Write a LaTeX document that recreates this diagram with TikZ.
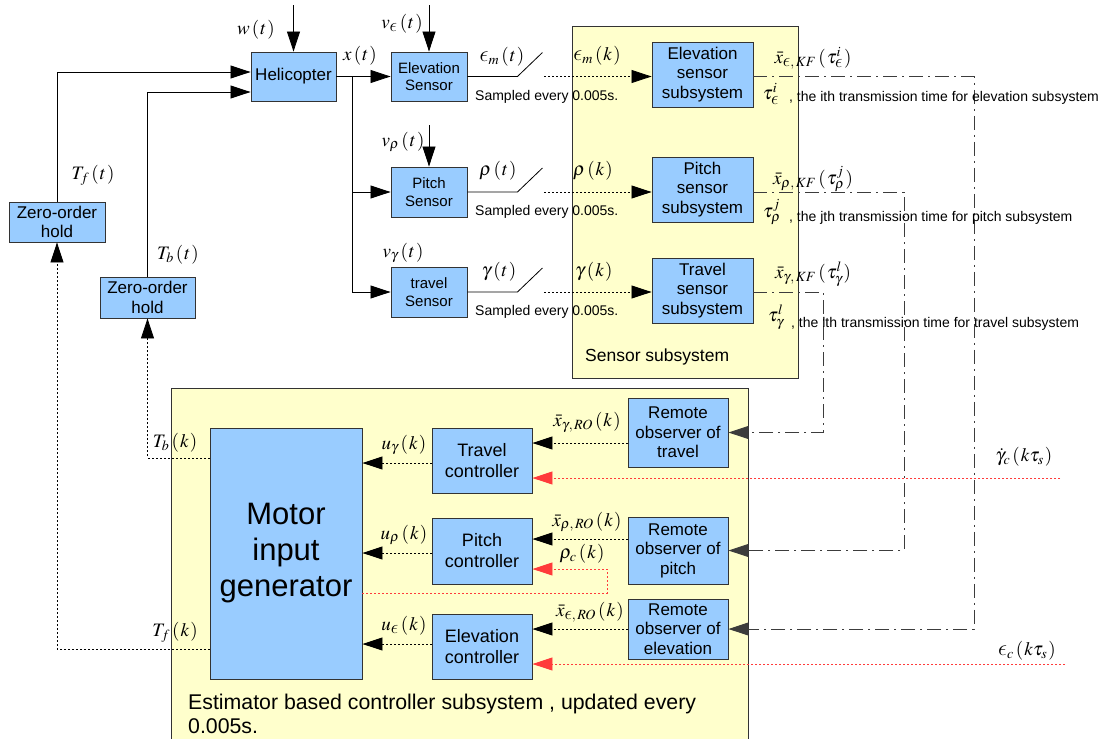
\documentclass[tikz,border=0pt]{standalone}
\usepackage{graphicx}
\usepackage{mathptmx}
\usepackage[no-math]{fontspec}
\setmainfont{Liberation Sans}
\usetikzlibrary{arrows.meta}
\definecolor{blockblue}{HTML}{99CCFF}
\definecolor{panelyellow}{HTML}{FFFFCC}
\definecolor{edge}{HTML}{333333}
\definecolor{cmdred}{HTML}{FF3B3B}
\definecolor{linkgray}{HTML}{3C3C3C}
% lunate epsilon taken from the Computer Modern math italic, a little enlarged
\DeclareSymbolFont{cmlet}{OML}{cmm}{m}{it}
\DeclareMathSymbol{\lepsraw}{\mathord}{cmlet}{"0F}
\newcommand\bigeps[2]{\mathord{\scalebox{1.3}{$#1\lepsraw$}}}
\newcommand\leps{{\mathpalette\bigeps\relax}}
% argument in parentheses with a little air around it
\newcommand\pa[1]{\mkern2mu(\mkern1mu#1\mkern1mu)}

\begin{document}
\begin{tikzpicture}[x=1pt,y=-1pt,
  blk/.style={draw=edge, line width=0.9pt, fill=blockblue, inner sep=0pt,
    align=center, font=\fontsize{17}{19.5}\selectfont},
  sblk/.style={blk, font=\fontsize{15}{17.5}\selectfont},
  cblk/.style={blk, font=\fontsize{18}{21}\selectfont},
  panel/.style={draw=edge, line width=0.9pt, fill=panelyellow, inner sep=0pt},
  lab/.style={inner sep=0pt, font=\fontsize{19}{22}\selectfont},
  note/.style={inner sep=0pt, anchor=west, font=\fontsize{14}{16}\selectfont},
  tip/.style={-{Triangle[length=20pt,width=13pt]}},
  wire/.style={line width=0.8pt, black},
  dotw/.style={line width=0.8pt, black, dash pattern=on 2pt off 2pt},
  redw/.style={line width=0.8pt, cmdred, dash pattern=on 2pt off 2pt},
  link/.style={line width=0.9pt, linkgray, dash pattern=on 14pt off 5pt on 2pt off 5pt},
]
\useasboundingbox (0,0) rectangle (1117,739);
\fill[white] (0,0) rectangle (1117,739);
\clip (0,0) rectangle (1117,739);

% ---------- subsystem panels ----------
\node[panel, minimum width=226, minimum height=352] (sensp) at (685,202) {};
\node[panel, minimum width=577, minimum height=380] (ctrlp) at (459.5,578) {};
\node[note, font=\fontsize{17.5}{20}\selectfont] (sensl) at (585,357) {Sensor subsystem};
\node[inner sep=0pt, anchor=north west, align=left, font=\fontsize{21.3}{24}\selectfont] (ctrll)
  at (188,694) {Estimator based controller subsystem , updated every\\0.005s.};

% ---------- plant side ----------
\node[blk, minimum width=85, minimum height=49] (heli) at (293.5,76.5) {Helicopter};
\node[blk, minimum width=96, minimum height=40] (zoha) at (57,222) {Zero-order\\hold};
\node[blk, minimum width=95, minimum height=41] (zohb) at (147.5,297.5) {Zero-order\\hold};
\node[sblk, minimum width=76, minimum height=49] (esen) at (429,76.5) {Elevation\\Sensor};
\node[sblk, minimum width=76, minimum height=50] (psen) at (429,192) {Pitch\\Sensor};
\node[sblk, minimum width=76, minimum height=50] (tsen) at (429,292) {travel\\Sensor};

% ---------- sensor subsystems ----------
\node[blk, minimum width=101, minimum height=65] (esub) at (702.5,74.5) {Elevation\\sensor\\subsystem};
\node[blk, minimum width=101, minimum height=65] (psub) at (702.5,189.5) {Pitch\\sensor\\subsystem};
\node[blk, minimum width=101, minimum height=65] (tsub) at (702.5,290.5) {Travel\\sensor\\subsystem};

% ---------- controller subsystem ----------
\node[blk, font=\fontsize{31}{36}\selectfont, minimum width=152, minimum height=251] (mig)
  at (286,553.5) {Motor\\input\\generator};
\node[cblk, minimum width=100, minimum height=65] (tctl) at (482,460.5) {Travel\\controller};
\node[cblk, minimum width=100, minimum height=66] (pctl) at (482,551) {Pitch\\controller};
\node[cblk, minimum width=100, minimum height=65] (ectl) at (482,646.5) {Elevation\\controller};
\node[blk, minimum width=100, minimum height=69] (rtr) at (678,432.5) {Remote\\observer of\\travel};
\node[blk, minimum width=100, minimum height=67] (rpi) at (678,550.5) {Remote\\observer of\\pitch};
\node[blk, minimum width=100, minimum height=60] (rel) at (678,629) {Remote\\observer of\\elevation};

% ---------- disturbance and noise inputs ----------
\coordinate (wtop) at (293.5,5);
\coordinate (vetop) at (429,5);
\coordinate (vptop) at (429,125);
\draw[wire,tip] (wtop) -- (heli.north);
\draw[wire,tip] (vetop) -- (esen.north);
\draw[wire,tip] (vptop) -- (psen.north);

% ---------- helicopter state to the sensors ----------
\coordinate (xsplit) at ([xshift=16pt]heli.east);
\draw[wire,tip] (heli.east) -- (esen.west);
\draw[wire,tip] (xsplit) |- (psen.west);
\draw[wire,tip] (xsplit) |- (tsen.west);

% ---------- zero-order holds to the helicopter ----------
\draw[wire,tip] (zoha.north) |- ([yshift=4.5pt]heli.west);
\draw[wire,tip] (zohb.north) |- ([yshift=-15.5pt]heli.west);

% ---------- samplers ----------
\coordinate (swe) at ([xshift=50pt]esen.east);
\coordinate (swp) at ([xshift=50pt]psen.east);
\coordinate (swt) at ([xshift=50pt]tsen.east);
\draw[wire] (esen.east) -- (swe) -- ++(25,-24);
\draw[wire] (psen.east) -- (swp) -- ++(25,-24);
\draw[wire] (tsen.east) -- (swt) -- ++(25,-24);
\draw[dotw,tip] ([xshift=27pt]swe) -- (esub.west |- swe);
\draw[dotw,tip] ([xshift=27pt]swp) -- (psub.west |- swp);
\draw[dotw,tip] ([xshift=27pt]swt) -- (tsub.west |- swt);
\node[note] (se) at (475,97) {Sampled every 0.005s.};
\node[note] (sp) at (475,212) {Sampled every 0.005s.};
\node[note] (st) at (475,312) {Sampled every 0.005s.};

% ---------- network links to the remote observers ----------
\coordinate (ke) at (974,76.5);
\coordinate (kp) at (904,192);
\coordinate (kt) at (823,292);
\draw[link,tip] (esub.east |- ke) -- (ke) |- (rel.east);
\draw[link,tip] (psub.east |- kp) -- (kp) |- (rpi.east);
\draw[link,tip] (tsub.east |- kt) -- (kt) |- (rtr.east);

% ---------- observers to controllers ----------
\coordinate (ot) at (600,443);
\coordinate (op) at (600,539);
\coordinate (oe) at (600,629);
\draw[dotw,tip] (rtr.west |- ot) -- (tctl.east |- ot);
\draw[dotw,tip] (rpi.west |- op) -- (pctl.east |- op);
\draw[dotw,tip] (rel.west |- oe) -- (ectl.east |- oe);

% ---------- references ----------
\coordinate (gref) at (1060,478);
\coordinate (eref) at (1065,664);
\coordinate (rlow) at (607,593);
\coordinate (rup) at (607,569);
\draw[redw,tip] (gref) -- (tctl.east |- gref);
\draw[redw,tip] (eref) -- (ectl.east |- eref);
\draw[redw,tip] (mig.east |- rlow) -- (rlow) -- (rup) -- (pctl.east |- rup);

% ---------- controllers to the motor input generator ----------
\coordinate (ug) at (400,463);
\coordinate (up) at (400,553);
\coordinate (ue) at (400,644);
\draw[dotw,tip] (tctl.west |- ug) -- (mig.east |- ug);
\draw[dotw,tip] (pctl.west |- up) -- (mig.east |- up);
\draw[dotw,tip] (ectl.west |- ue) -- (mig.east |- ue);

% ---------- motor commands back to the holds ----------
\coordinate (tbk) at (148,458);
\coordinate (tfk) at (58,649);
\draw[dotw,tip] (mig.west |- tbk) -| (zohb.south);
\draw[dotw,tip] (mig.west |- tfk) -| (zoha.south);

% ---------- signal labels ----------
\node[lab] (lw) at (256,30) {$w\pa{t}$};
\node[lab] (lx) at (360,56) {$x\pa{t}$};
\node[lab] (ltf) at (93,175) {$T_f\pa{t}$};
\node[lab] (ltb) at (178,255) {$T_b\pa{t}$};
\node[lab] (lve) at (402,24) {$v_\leps\pa{t}$};
\node[lab] (lvp) at (403,142) {$v_\rho\pa{t}$};
\node[lab] (lvg) at (403,253) {$v_\gamma\pa{t}$};
\node[lab] (lem) at (502,57) {$\leps_m\pa{t}$};
\node[lab] (lrt) at (498,171) {$\rho\pa{t}$};
\node[lab] (lgt) at (499,272) {$\gamma\pa{t}$};
\node[lab] (lemk) at (597,56) {$\leps_m\pa{k}$};
\node[lab] (lrk) at (593,171) {$\rho\pa{k}$};
\node[lab] (lgk) at (594,272) {$\gamma\pa{k}$};
\node[lab] (lxe) at (813,58) {$\bar x_{\leps,\,KF}\pa{\tau_\leps^i}$};
\node[lab] (lte) at (771,94) {$\tau_\leps^i$};
\node[lab] (lxp) at (813,179) {$\bar x_{\rho,\,KF}\pa{\tau_\rho^j}$};
\node[lab] (ltp) at (772,212) {$\tau_\rho^j$};
\node[lab] (lxg) at (813,274) {$\bar x_{\gamma,\,KF}\pa{\tau_\gamma^l}$};
\node[lab] (ltg) at (776,317) {$\tau_\gamma^l$};
\node[note] (ne) at (789,98) {, the ith transmission time for elevation subsystem};
\node[note] (np) at (789,218) {, the jth transmission time for pitch subsystem};
\node[note] (nt) at (791,324) {, the lth transmission time for travel subsystem};
\node[lab] (ltbk) at (175,443) {$T_b\pa{k}$};
\node[lab] (ltfk) at (175,632) {$T_f\pa{k}$};
\node[lab] (lug) at (404,445) {$u_\gamma\pa{k}$};
\node[lab] (lup) at (404,535) {$u_\rho\pa{k}$};
\node[lab] (lue) at (404,626) {$u_\leps\pa{k}$};
\node[lab] (lxgr) at (587,422) {$\bar x_{\gamma,\,RO}\pa{k}$};
\node[lab] (lxpr) at (587,522) {$\bar x_{\rho,\,RO}\pa{k}$};
\node[lab] (lrc) at (582,554) {$\rho_c\pa{k}$};
\node[lab] (lxer) at (590,612) {$\bar x_{\leps,\,RO}\pa{k}$};
\node[lab] (lgc) at (1024,457) {$\dot\gamma_c\pa{k\tau_s}$};
\node[lab] (lec) at (1027,651) {$\leps_c\pa{k\tau_s}$};
\end{tikzpicture}
\end{document}
